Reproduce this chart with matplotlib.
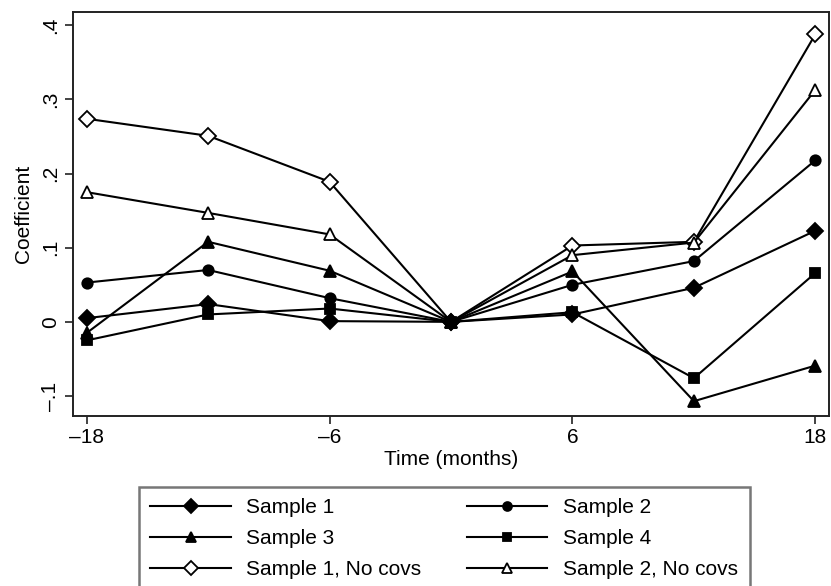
import matplotlib
matplotlib.use("Agg")
import matplotlib.pyplot as plt
from matplotlib.lines import Line2D

months = [-18, -12, -6, 0, 6, 12, 18]

sample1 = [0.005, 0.024, 0.001, 0.0, 0.010, 0.046, 0.123]
sample2 = [0.053, 0.070, 0.032, 0.0, 0.050, 0.082, 0.218]
sample3 = [-0.015, 0.108, 0.069, 0.0, 0.068, -0.107, -0.059]
sample4 = [-0.025, 0.010, 0.018, 0.0, 0.013, -0.076, 0.066]
sample1_nocov = [0.274, 0.251, 0.189, 0.0, 0.103, 0.108, 0.388]
sample2_nocov = [0.175, 0.147, 0.118, 0.0, 0.090, 0.107, 0.313]

xticks = [-18, -6, 6, 18]
xtick_labels = ["\u201318", "\u20136", "6", "18"]
yticks = [-0.1, 0, 0.1, 0.2, 0.3, 0.4]
ytick_labels = ["\u2013.1", "0", ".1", ".2", ".3", ".4"]

plt.rcParams['font.family'] = ['Liberation Sans', 'DejaVu Sans']
fs = 15

fig = plt.figure(figsize=(8.31, 5.86), dpi=100)
ax = fig.add_axes([0.0875, 0.2906, 0.9105, 0.6894])

series = [
    (sample1, 'D', 'k', 'Sample 1', 4),
    (sample2, 'o', 'k', 'Sample 2', 4),
    (sample3, '^', 'k', 'Sample 3', 4),
    (sample4, 's', 'k', 'Sample 4', 4),
    (sample1_nocov, 'D', 'white', 'Sample 1, No covs', 3),
    (sample2_nocov, '^', 'white', 'Sample 2, No covs', 3),
]
sizes = {'D': 8, 'o': 7.5, '^': 8.5, 's': 7}

handles = {}
for vals, mk, face, name, z in series:
    ax.plot(months, vals, color='k', lw=1.5, marker=mk, ms=sizes[mk],
            mfc=face, mec='k', mew=1.3, label=name, zorder=z)
    handles[name] = Line2D([], [], color='k', lw=1.5, marker=mk,
                           ms=sizes[mk] * 0.85, mfc=face, mec='k', mew=1.3)

ax.set_xlim(-18.69, 18.69)
ax.set_ylim(-0.1266, 0.4184)
ax.set_xticks(xticks)
ax.set_xticklabels(xtick_labels, fontsize=fs)
ax.set_yticks(yticks)
ax.set_yticklabels(ytick_labels, fontsize=fs, rotation=90, va='center')
ax.tick_params(direction='out', length=6, width=1.2, color='#222222', pad=3)
ax.set_xlabel('Time (months)', fontsize=fs, labelpad=2)
ax.set_ylabel('Coefficient', fontsize=fs, labelpad=6)
for sp in ax.spines.values():
    sp.set_linewidth(1.4)
    sp.set_color('#222222')

# legend rows: S1 S2 / S3 S4 / S1nc S2nc  (columns filled top-down)
order = ['Sample 1', 'Sample 3', 'Sample 1, No covs',
         'Sample 2', 'Sample 4', 'Sample 2, No covs']
leg = fig.legend([handles[n] for n in order], order, ncol=2,
                 loc='upper left', bbox_to_anchor=(139 / 831, 1 - 486.7 / 586),
                 borderaxespad=0, fontsize=fs, frameon=True, fancybox=False,
                 handlelength=3.85, handletextpad=0.75, columnspacing=2.2,
                 labelspacing=0.58, borderpad=0.55)
leg.get_frame().set_edgecolor('#555555')
leg.get_frame().set_linewidth(1.8)

fig.savefig('out.png', dpi=100)
